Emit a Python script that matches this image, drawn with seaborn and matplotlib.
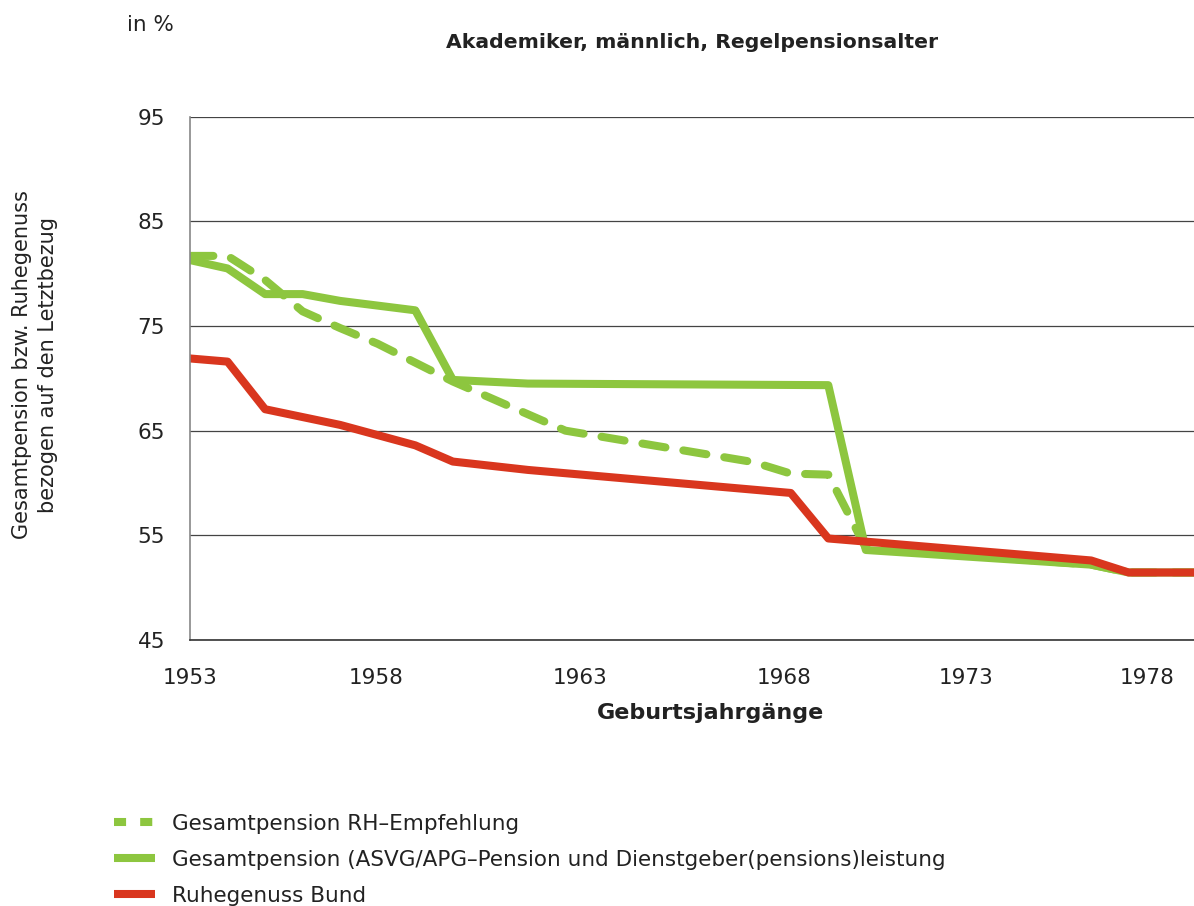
import pandas as pd
import numpy as np
import matplotlib
matplotlib.use("Agg")
import matplotlib.pyplot as plt
from matplotlib.lines import Line2D
import seaborn as sns

# --- Daten ---
s_empf = "Gesamtpension RH–Empfehlung"
s_ges = "Gesamtpension (ASVG/APG–Pension und Dienstgeber(pensions)leistung"
s_bund = "Ruhegenuss Bund"

jahre_empf = [1953, 1954, 1955, 1956, 1957, 1958, 1960, 1963, 1968, 1969, 1970, 1971, 1977, 1978, 1980]
werte_empf = [81.7, 81.7, 79.4, 76.4, 74.8, 73.3, 69.7, 65.0, 62.0, 60.9, 60.8, 53.8, 52.2, 51.45, 51.45]

jahre_ges = [1953, 1954, 1955, 1956, 1957, 1959, 1960, 1962, 1970, 1971, 1977, 1978, 1980]
werte_ges = [81.3, 80.5, 78.05, 78.05, 77.4, 76.5, 69.85, 69.5, 69.35, 53.6, 52.2, 51.45, 51.45]

jahre_bund = [1953, 1954, 1955, 1957, 1959, 1960, 1962, 1969, 1970, 1977, 1978, 1980]
werte_bund = [71.9, 71.6, 67.05, 65.55, 63.6, 62.05, 61.25, 59.05, 54.7, 52.6, 51.45, 51.45]

x_labels = ["1953", "1958", "1963", "1968", "1973", "1978"]
y_ticks = [45, 55, 65, 75, 85, 95]

gruen = "#8dc63f"
rot = "#d9361e"

# Long-Format fuer seaborn
df = pd.concat([
    pd.DataFrame({"jahr": jahre_empf, "wert": werte_empf, "serie": s_empf}),
    pd.DataFrame({"jahr": jahre_ges, "wert": werte_ges, "serie": s_ges}),
    pd.DataFrame({"jahr": jahre_bund, "wert": werte_bund, "serie": s_bund}),
], ignore_index=True)

sns.set_style("white")
plt.rcParams["font.family"] = ["DejaVu Sans"]
textfarbe = "#222222"

fig = plt.figure(figsize=(11.94, 9.06), dpi=100)
ax = fig.add_axes([190 / 1194, 266 / 906, 1004 / 1194, 523.3 / 906])

reihenfolge = [s_empf, s_ges, s_bund]
ax = sns.lineplot(
    data=df, x="jahr", y="wert", hue="serie", style="serie",
    hue_order=reihenfolge, style_order=reihenfolge,
    palette={s_empf: gruen, s_ges: gruen, s_bund: rot},
    dashes={s_empf: (2.9, 2.25), s_ges: "", s_bund: ""},
    linewidth=5.8, dash_capstyle="round", estimator=None, sort=False,
    legend=False, ax=ax,
)

# Achsen
ax.set_xlim(1953, 1979.74)
ax.set_ylim(45, 95)
ax.set_yticks(y_ticks)
ax.set_yticklabels([str(v) for v in y_ticks])
# Beschriftungen sitzen im Original leicht versetzt zu den Jahrespunkten
ax.set_xticks([1953, 1957.97, 1963.39, 1968.82, 1973.67, 1978.49])
ax.set_xticklabels(x_labels)
ax.set_xlabel("")
ax.set_ylabel("")

ax.yaxis.grid(True, color="#444444", linewidth=0.9)
ax.xaxis.grid(False)
ax.set_axisbelow(True)
for s in ["top", "right"]:
    ax.spines[s].set_visible(False)
ax.spines["left"].set_color("#888888")
ax.spines["left"].set_linewidth(1.2)
ax.spines["bottom"].set_color("#333333")
ax.spines["bottom"].set_linewidth(1.2)

ax.tick_params(axis="y", length=0, pad=18, labelsize=15.5, labelcolor=textfarbe)
ax.tick_params(axis="x", direction="out", length=15, width=1, color="#666666",
               pad=5, labelsize=15.5, labelcolor=textfarbe)

# Texte
fig.text(150 / 1194, 1 - 25 / 906, "in %", ha="center", va="center",
         fontsize=15.5, color=textfarbe)
fig.text(692 / 1194, 1 - 42 / 906, "Akademiker, männlich, Regelpensionsalter",
         ha="center", va="center", fontsize=14.7, fontweight="bold", color=textfarbe)
fig.text(711 / 1194, 1 - 713 / 906, "Geburtsjahrgänge", ha="center", va="center",
         fontsize=16, fontweight="bold", color=textfarbe)
fig.text(35 / 1194, 1 - 365 / 906,
         "Gesamtpension bzw. Ruhegenuss\nbezogen auf den Letztbezug",
         ha="center", va="center", rotation=90, fontsize=15, color=textfarbe,
         linespacing=1.4, multialignment="center")

# Legende
handles = [
    Line2D([], [], color=gruen, lw=5.8, dashes=(1.5, 1.75), dash_capstyle="butt"),
    Line2D([], [], color=gruen, lw=5.8, solid_capstyle="butt"),
    Line2D([], [], color=rot, lw=5.8, solid_capstyle="butt"),
]
fig.legend(handles, reihenfolge, loc="upper left",
           bbox_to_anchor=(105 / 1194, 1 - 805 / 906), frameon=False,
           fontsize=15.5, handlelength=1.9, handletextpad=0.8,
           labelspacing=0.75, borderaxespad=0, labelcolor=textfarbe)

fig.savefig("out.png", dpi=100)
